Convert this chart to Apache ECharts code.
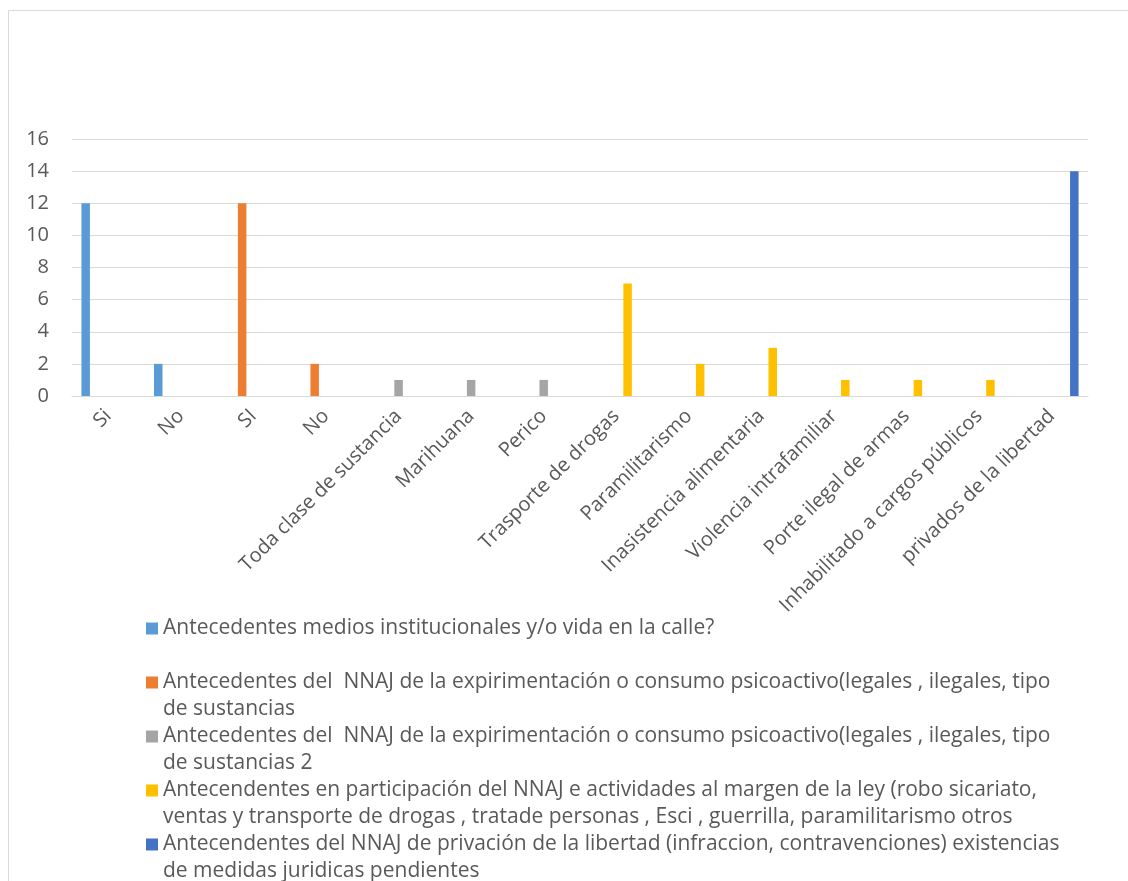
<!DOCTYPE html>
<html>
<head>
<meta charset="utf-8">
<script src="https://cdn.jsdelivr.net/npm/echarts@6/dist/echarts.min.js"></script>
<style>
  html, body { margin: 0; padding: 0; background: #fff; }
  #chart { width: 1128px; height: 881px; }
</style>
</head>
<body>
<div id="chart"></div>
<script>
const categories = [
  "Si", "No", "SI", "No", "Toda clase de sustancia", "Marihuana", "Perico",
  "Trasporte de drogas", "Paramilitarismo", "Inasistencia alimentaria",
  "Violencia intrafamiliar", "Porte ilegal de armas",
  "Inhabilitado a cargos públicos", "privados de la libertad"
];

const seriesNames = [
  "Antecedentes medios institucionales y/o vida en la calle?",
  "Antecedentes del  NNAJ de la expirimentación o consumo psicoactivo(legales , ilegales, tipo de sustancias",
  "Antecedentes del  NNAJ de la expirimentación o consumo psicoactivo(legales , ilegales, tipo de sustancias 2",
  "Antecendentes en participación del NNAJ e actividades al margen de la ley (robo sicariato, ventas y transporte de drogas , tratade personas , Esci , guerrilla, paramilitarismo otros",
  "Antecendentes del NNAJ de privación de la libertad (infraccion, contravenciones) existencias de medidas juridicas pendientes"
];

// legend lines as wrapped in the picture
const legendLines = [
  ["Antecedentes medios institucionales y/o vida en la calle?", " "],
  ["Antecedentes del  NNAJ de la expirimentación o consumo psicoactivo(legales , ilegales, tipo", "de sustancias"],
  ["Antecedentes del  NNAJ de la expirimentación o consumo psicoactivo(legales , ilegales, tipo", "de sustancias 2"],
  ["Antecendentes en participación del NNAJ e actividades al margen de la ley (robo sicariato,", "ventas y transporte de drogas , tratade personas , Esci , guerrilla, paramilitarismo otros"],
  ["Antecendentes del NNAJ de privación de la libertad (infraccion, contravenciones) existencias", "de medidas juridicas pendientes"]
];

const colors = ["#5b9bd5", "#ed7d31", "#a5a5a5", "#ffc000", "#4472c4"];

const institucional = [12, 2, null, null, null, null, null, null, null, null, null, null, null, null];
const consumo = [null, null, 12, 2, null, null, null, null, null, null, null, null, null, null];
const consumo2 = [null, null, null, null, 1, 1, 1, null, null, null, null, null, null, null];
const participacion = [null, null, null, null, null, null, null, 7, 2, 3, 1, 1, 1, null];
const privacion = [null, null, null, null, null, null, null, null, null, null, null, null, null, 14];

const seriesData = [institucional, consumo, consumo2, participacion, privacion];

const FONT = "Open Sans";
const TXT = "#595959";
const LH = 27;

const chart = echarts.init(document.getElementById("chart"));

chart.setOption({
  animation: false,
  color: colors,
  graphic: [
    {
      type: "rect",
      shape: { x: 8.5, y: 10.5, width: 1200, height: 1000 },
      style: { fill: "none", stroke: "#d9d9d9", lineWidth: 1 },
      silent: true
    }
  ],
  grid: { left: 72, right: 40, top: 139, bottom: 485 },
  xAxis: {
    type: "category",
    data: categories,
    axisLine: { lineStyle: { color: "#d9d9d9", width: 1 } },
    axisTick: { show: false },
    axisLabel: {
      rotate: 45,
      interval: 0,
      margin: 17,
      color: TXT,
      fontFamily: FONT,
      fontSize: 20
    }
  },
  yAxis: {
    type: "value",
    min: 0,
    max: 16,
    interval: 2,
    axisLine: { show: false },
    axisTick: { show: false },
    splitLine: { lineStyle: { color: "#d9d9d9", width: 1 } },
    axisLabel: { color: TXT, fontFamily: FONT, fontSize: 20, margin: 23 }
  },
  legend: {
    orient: "vertical",
    left: 146,
    top: 588,
    height: 400,
    padding: 0,
    itemGap: -LH,
    itemWidth: 12,
    itemHeight: 12,
    icon: "rect",
    selectedMode: false,
    data: seriesNames,
    // a blank first line keeps the square level with the first text line
    formatter: (name) => " \n" + legendLines[seriesNames.indexOf(name)].join("\n"),
    textStyle: {
      color: TXT,
      fontFamily: FONT,
      fontSize: 21,
      lineHeight: LH
    }
  },
  series: seriesData.map((d, i) => ({
    name: seriesNames[i],
    type: "bar",
    data: d,
    barWidth: 8.5,
    barGap: "33%",
    itemStyle: { color: colors[i] }
  }))
});
</script>
</body>
</html>
